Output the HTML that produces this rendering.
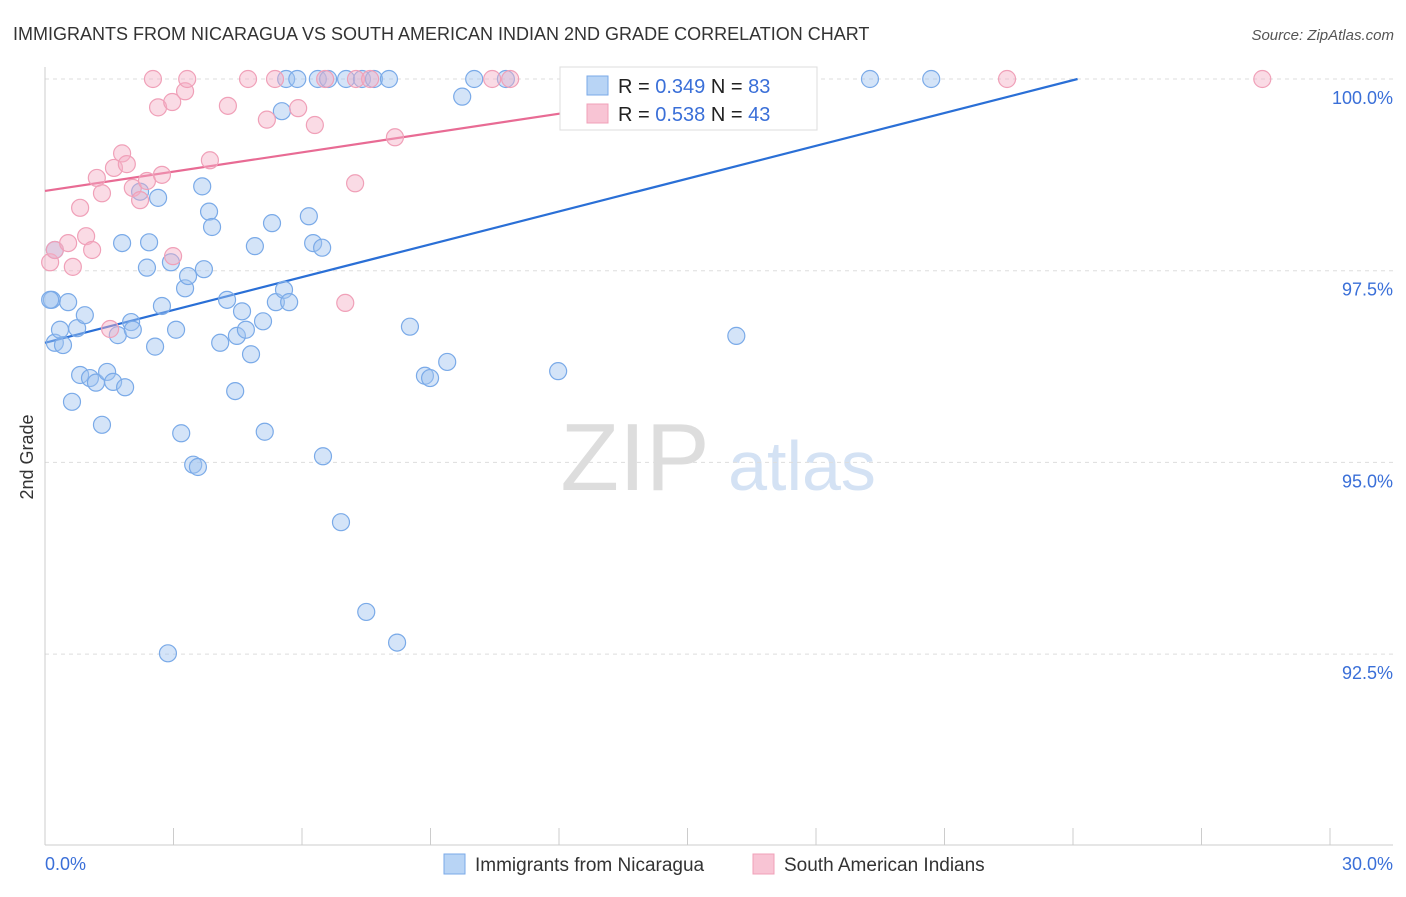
<!DOCTYPE html>
<html><head><meta charset="utf-8"><style>
body{margin:0;background:#fff;font-family:"Liberation Sans",sans-serif;}
svg text{font-family:"Liberation Sans",sans-serif;}
</style></head><body>
<svg id="chart" width="1406" height="892" xmlns="http://www.w3.org/2000/svg">
<text x="13" y="40" font-size="18" fill="#333">IMMIGRANTS FROM NICARAGUA VS SOUTH AMERICAN INDIAN 2ND GRADE CORRELATION CHART</text>
<text x="1394" y="40" font-size="15" fill="#555" font-style="italic" text-anchor="end">Source: ZipAtlas.com</text>
<text transform="translate(33,457) rotate(-90)" font-size="18" fill="#333" text-anchor="middle">2nd Grade</text>
<g>
<text x="635" y="490" font-size="96" fill="#ddd" font-family="Liberation Serif" text-anchor="middle">ZIP</text>
<text x="802" y="490" font-size="70" fill="#d4e2f4" text-anchor="middle">atlas</text>
</g>
<g id="grid"></g><g id="axes"></g><g id="lines"></g><g id="pts"></g>
<g>
<rect x="560" y="67" width="257" height="63" fill="#fff" stroke="#ddd"/>
<rect x="587" y="76" width="21" height="19" fill="#b8d4f5" stroke="#7aaae8"/>
<rect x="587" y="104" width="21" height="19" fill="#f8c4d4" stroke="#f0a0b8"/>
<text x="618" y="93" font-size="20" fill="#222">R = <tspan fill="#3a6fd8">0.349</tspan>   N = <tspan fill="#3a6fd8">83</tspan></text>
<text x="618" y="121" font-size="20" fill="#222">R = <tspan fill="#3a6fd8">0.538</tspan>   N = <tspan fill="#3a6fd8">43</tspan></text>
</g>
<g>
<rect x="444" y="854" width="21" height="20" fill="#b8d4f5" stroke="#7aaae8"/>
<text x="475" y="871" font-size="19" fill="#333">Immigrants from Nicaragua</text>
<rect x="753" y="854" width="21" height="20" fill="#f8c4d4" stroke="#f0a0b8"/>
<text x="784" y="871" font-size="19" fill="#333">South American Indians</text>
</g>
</svg>
<script>
const yTicks=[100,97.5,95,92.5];
const yTickLabels=["100.0%","97.5%","95.0%","92.5%"];
const xTicks=[0,3,6,9,12,15,18,21,24,27,30];
const blueX=[.23,.42,.35,.16,.54,.75,.93,.82,.63,1.05,1.19,1.33,1.45,1.59,1.87,1.70,2.01,2.05,1.80,2.22,2.64,2.43,2.38,2.57,2.73,2.94,3.06,3.18,3.27,3.34,3.46,3.57,3.67,3.71,3.83,3.90,2.87,4.09,4.25,4.44,4.48,4.60,4.69,4.81,4.90,5.09,5.13,5.30,5.39,5.53,5.58,5.70,5.63,5.89,6.16,6.26,6.37,6.47,6.49,6.61,6.91,7.03,7.40,7.50,7.68,8.03,8.22,8.52,8.87,8.99,9.39,9.74,10.02,10.76,11.98,16.14,19.26,20.69,.23,.12];
const blueY=[96.56,96.53,96.73,97.12,97.09,96.75,96.92,96.14,95.79,96.10,96.04,95.49,96.18,96.05,95.98,96.66,96.83,96.73,97.86,98.53,98.45,97.87,97.54,96.51,97.04,97.61,96.73,95.38,97.27,97.43,94.97,94.94,98.60,97.52,98.27,98.07,92.51,96.56,97.12,95.93,96.65,96.97,96.73,96.41,97.82,96.84,95.40,98.12,97.09,99.58,97.25,97.09,100,100,98.21,97.86,100,97.80,95.08,100,94.22,100,100,93.05,100,100,92.65,96.77,96.13,96.10,96.31,99.77,100,100,96.19,96.65,100,100,97.77,97.12];
const pinkX=[.12,.23,.54,.65,.82,.96,1.10,1.21,1.33,1.52,1.61,1.80,1.91,2.05,2.22,2.38,2.52,2.64,2.73,2.97,2.99,3.27,3.32,3.85,4.27,4.74,5.18,5.37,5.91,6.30,6.54,7.01,7.24,7.26,7.59,8.17,10.44,10.86,13.78,17.28,22.46,28.42];
const pinkY=[97.61,97.77,97.86,97.55,98.32,97.95,97.77,98.71,98.51,96.74,98.84,99.03,98.89,98.58,98.42,98.67,100,99.63,98.75,99.70,97.69,99.84,100,98.94,99.65,100,99.47,100,99.62,99.40,100,97.08,98.64,100,100,99.24,100,100,100,100,100,100];
const blueFit=[96.56,0.1427];
const pinkFit=[98.54,0.0839];
const X=v=>45+v/30*1285, Y=v=>79+(100-v)/2.5*191.7;
const NS="http://www.w3.org/2000/svg";
function mk(p,t,a){const e=document.createElementNS(NS,t);for(const k in a)e.setAttribute(k,a[k]);document.getElementById(p).appendChild(e);return e;}
yTicks.forEach((v,i)=>{
 const g=mk('grid','line',{x1:45,x2:1393,y1:Y(v),y2:Y(v),stroke:'#ddd','stroke-dasharray':'4,4'});
 
 
 const t=mk('grid','text',{x:1393,y:Y(v)+25,'font-size':18,fill:'#3a6fd8','text-anchor':'end'});
 t.textContent=yTickLabels[i];
 
 
});
const ax=mk('axes','line',{x1:45,x2:1393,y1:845,y2:845,stroke:'#ccc'});


const ay=mk('axes','line',{x1:45,x2:45,y1:67,y2:845,stroke:'#ccc'});


xTicks.forEach(v=>{
 const l=mk('axes','line',{x1:X(v),x2:X(v),y1:828,y2:845,stroke:'#ccc'});
 
 
});
const xl0=mk('axes','text',{x:45,y:870,'font-size':18,fill:'#3a6fd8'});xl0.textContent='0.0%';


const xl1=mk('axes','text',{x:1393,y:870,'font-size':18,fill:'#3a6fd8','text-anchor':'end'});xl1.textContent='30.0%';


function pts(xs,ys,fill,stroke,name){xs.forEach((x,i)=>{
 const c=mk('pts','circle',{cx:X(x),cy:Y(ys[i]),r:8.5,fill:fill,stroke:stroke,'stroke-width':1.2});
 
 
});}
pts(blueX,blueY,'rgba(160,195,240,0.45)','#7aaae8','nicaragua-point');
pts(pinkX,pinkY,'rgba(245,175,198,0.45)','#f0a0b8','south-american-indian-point');
function fit(f,col,name){const xe=(100-f[0])/f[1];
 const l=mk('lines','line',{x1:X(0),y1:Y(f[0]),x2:X(xe),y2:Y(100),stroke:col,'stroke-width':2.2});
 
 
}
fit(blueFit,'#2a6fd6','nicaragua-trend-line');
fit(pinkFit,'#e86b94','south-american-indian-trend-line');
</script>
</body></html>
